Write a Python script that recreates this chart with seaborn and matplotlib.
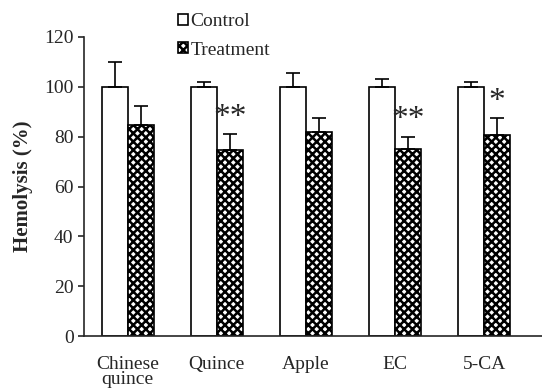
import matplotlib
matplotlib.use("Agg")
import matplotlib.pyplot as plt
import seaborn as sns
import numpy as np
import pandas as pd
from matplotlib.patches import Patch

# data
categories = ["Chinese\nquince", "Quince", "Apple", "EC", "5-CA"]
control = [100, 100, 100, 100, 100]
control_err = [10, 2, 5.5, 3, 2]
treatment = [84.5, 74.5, 82, 75, 80.5]
treatment_err = [8, 6.5, 5.5, 5, 7]
stars = ["", "**", "", "**", "*"]

sns.set_style("ticks")
plt.rcParams['font.family'] = ['Liberation Serif', 'DejaVu Serif']
plt.rcParams['hatch.linewidth'] = 1.8

df = pd.DataFrame({
    "cat": categories * 2,
    "val": control + treatment,
    "grp": ["Control"] * 5 + ["Treatment"] * 5,
})

fig = plt.figure(figsize=(5.42, 3.89), dpi=100)
ax = fig.add_axes([0.155, 0.136, 0.845, 0.769])

sns.barplot(data=df, x="cat", y="val", hue="grp", ax=ax, errorbar=None,
            palette=["white", "white"], edgecolor="black", linewidth=1.2,
            width=0.58, gap=0, legend=False)

# hatch the treatment bars
nb = len(categories)
bars = ax.patches[:2 * nb]
for b in bars[nb:]:
    b.set_hatch("xxxx")

# error bars, upper side only
for i, b in enumerate(bars):
    x = b.get_x() + b.get_width() / 2
    h = b.get_height()
    e = (control_err + treatment_err)[i]
    ax.errorbar(x, h, yerr=[[0], [e]], fmt="none", ecolor="black",
                elinewidth=1.2, capsize=5, capthick=1.2)

for i, s in enumerate(stars):
    if s:
        b = bars[nb + i]
        x = b.get_x() + b.get_width() / 2
        ax.text(x, treatment[i] + treatment_err[i] + 0.5, s, ha="center",
                va="bottom", fontsize=24)

ax.set_ylim(0, 120)
ax.set_yticks(range(0, 121, 20))
ax.set_xlim(-0.49, 4.65)
ax.set_xlabel("")
ax.set_ylabel("Hemolysis (%)", fontsize=15, fontweight="bold", labelpad=8)
ax.tick_params(axis="y", labelsize=14, length=4, width=1.2, direction="out")
ax.tick_params(axis="x", labelsize=14, length=0, pad=14)
for lab in ax.get_xticklabels():
    lab.set_linespacing(0.9)
sns.despine(ax=ax, top=True, right=True)
ax.spines["left"].set_linewidth(1.2)
ax.spines["bottom"].set_linewidth(1.2)

# legend
handles = [Patch(facecolor="white", edgecolor="black", linewidth=1.2),
           Patch(facecolor="white", edgecolor="black", hatch="xxxx", linewidth=1.2)]
fig.legend(handles, ["Control", "Treatment"], loc="upper left",
           bbox_to_anchor=(178 / 542, 1 - 13 / 389), frameon=False,
           fontsize=14, handlelength=0.5, handleheight=0.5,
           handletextpad=0.15, labelspacing=0.6, borderpad=0, borderaxespad=0)

fig.savefig("out.png", dpi=100)
